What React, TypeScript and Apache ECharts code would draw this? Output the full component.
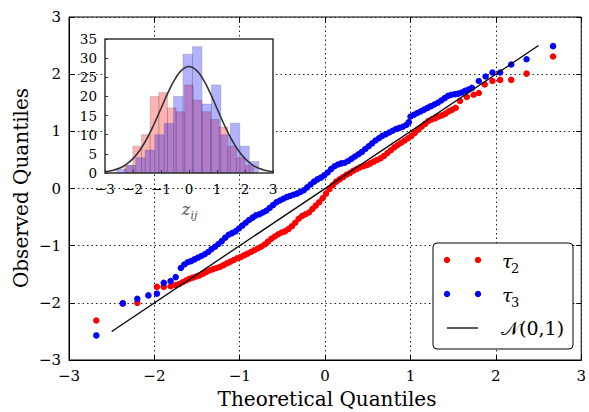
import React, { useEffect, useRef } from "react";
import * as echarts from "echarts";

// Q-Q points: [theoretical quantile, observed quantile]
const tau2Points: [number, number][] = [
  [-2.68, -2.31], [-2.37, -2.01], [-2.20, -2.00], [-1.97, -1.72], [-1.89, -1.72], [-1.81, -1.71], [-1.75, -1.69],
  [-1.71, -1.67], [-1.67, -1.64], [-1.63, -1.61], [-1.59, -1.58], [-1.55, -1.56], [-1.51, -1.54], [-1.47, -1.52],
  [-1.43, -1.49], [-1.39, -1.46], [-1.35, -1.43], [-1.31, -1.41], [-1.27, -1.39], [-1.23, -1.37], [-1.19, -1.34],
  [-1.15, -1.31], [-1.11, -1.28], [-1.07, -1.25], [-1.03, -1.22], [-0.99, -1.20], [-0.95, -1.17], [-0.91, -1.14],
  [-0.87, -1.11], [-0.83, -1.08], [-0.79, -1.05], [-0.75, -1.02], [-0.71, -0.98], [-0.67, -0.93], [-0.63, -0.88],
  [-0.59, -0.84], [-0.55, -0.80], [-0.51, -0.77], [-0.47, -0.75], [-0.43, -0.71], [-0.39, -0.66], [-0.35, -0.60],
  [-0.31, -0.53], [-0.27, -0.48], [-0.23, -0.45], [-0.19, -0.42], [-0.15, -0.36], [-0.11, -0.30], [-0.07, -0.24],
  [-0.03, -0.17], [0.01, -0.09], [0.05, -0.01], [0.09, 0.06], [0.13, 0.12], [0.17, 0.16], [0.21, 0.20],
  [0.25, 0.24], [0.29, 0.27], [0.33, 0.31], [0.37, 0.34], [0.41, 0.37], [0.45, 0.39], [0.49, 0.41],
  [0.53, 0.44], [0.57, 0.47], [0.61, 0.50], [0.65, 0.53], [0.69, 0.57], [0.73, 0.62], [0.77, 0.67],
  [0.81, 0.72], [0.85, 0.76], [0.89, 0.80], [0.93, 0.84], [0.97, 0.88], [1.01, 0.92], [1.05, 0.97],
  [1.09, 1.03], [1.13, 1.08], [1.17, 1.13], [1.21, 1.18], [1.25, 1.21], [1.29, 1.23], [1.33, 1.26],
  [1.37, 1.28], [1.41, 1.31], [1.45, 1.35], [1.49, 1.38], [1.53, 1.41], [1.58, 1.53], [1.66, 1.60],
  [1.74, 1.64], [1.80, 1.67], [1.87, 1.82], [1.96, 1.88], [2.05, 1.90], [2.18, 1.90], [2.36, 2.01], [2.67, 2.31],
];

const tau3Points: [number, number][] = [
  [-2.68, -2.57], [-2.37, -2.01], [-2.20, -1.93], [-2.07, -1.87], [-1.97, -1.84], [-1.89, -1.65], [-1.81, -1.62],
  [-1.75, -1.55], [-1.69, -1.39], [-1.65, -1.33], [-1.61, -1.29], [-1.57, -1.27], [-1.53, -1.24], [-1.49, -1.21],
  [-1.45, -1.18], [-1.41, -1.15], [-1.37, -1.11], [-1.33, -1.06], [-1.29, -1.02], [-1.25, -0.97], [-1.21, -0.92],
  [-1.17, -0.86], [-1.13, -0.81], [-1.09, -0.78], [-1.05, -0.75], [-1.01, -0.70], [-0.97, -0.65], [-0.93, -0.60],
  [-0.89, -0.55], [-0.85, -0.51], [-0.81, -0.47], [-0.77, -0.45], [-0.73, -0.42], [-0.69, -0.39], [-0.65, -0.34],
  [-0.61, -0.29], [-0.57, -0.24], [-0.53, -0.21], [-0.49, -0.18], [-0.45, -0.15], [-0.41, -0.13], [-0.37, -0.11],
  [-0.33, -0.09], [-0.29, -0.06], [-0.25, -0.03], [-0.21, 0.02], [-0.17, 0.07], [-0.13, 0.12], [-0.09, 0.16],
  [-0.05, 0.19], [-0.01, 0.23], [0.03, 0.28], [0.07, 0.34], [0.11, 0.39], [0.15, 0.42], [0.19, 0.44],
  [0.23, 0.45], [0.27, 0.48], [0.31, 0.52], [0.35, 0.56], [0.39, 0.60], [0.43, 0.64], [0.47, 0.69],
  [0.51, 0.74], [0.55, 0.79], [0.59, 0.84], [0.63, 0.88], [0.67, 0.92], [0.71, 0.95], [0.75, 0.98],
  [0.79, 1.01], [0.83, 1.04], [0.87, 1.06], [0.91, 1.08], [0.95, 1.11], [0.98, 1.16], [1.00, 1.26],
  [1.04, 1.29], [1.08, 1.32], [1.12, 1.35], [1.16, 1.38], [1.20, 1.41], [1.24, 1.44], [1.28, 1.47],
  [1.32, 1.50], [1.36, 1.54], [1.40, 1.58], [1.44, 1.62], [1.48, 1.64], [1.52, 1.65], [1.56, 1.66],
  [1.60, 1.68], [1.64, 1.71], [1.68, 1.73], [1.72, 1.76], [1.80, 1.88], [1.88, 1.96], [1.96, 2.03],
  [2.05, 2.03], [2.18, 2.17], [2.36, 2.26], [2.67, 2.49],
];

const normalLine: [number, number][] = [[-2.5, -2.5], [2.5, 2.5]];

// Inset histograms (each with its own bins)
const tau2BinStart = -2.31;
const tau2BinWidth = 0.308;
const tau2Counts = [2, 7, 10, 20, 21, 17, 16, 23, 19, 16, 14, 12, 7, 4, 2];
const tau3BinStart = -2.58;
const tau3BinWidth = 0.338;
const tau3Counts = [1, 2, 4, 6, 10, 13, 20, 31, 33, 18, 23, 10, 13, 7, 3];

// Scaled N(0,1) density in the inset
const pdfX = [-3, -2.75, -2.5, -2.25, -2, -1.75, -1.5, -1.25, -1, -0.75, -0.5, -0.25, 0,
  0.25, 0.5, 0.75, 1, 1.25, 1.5, 1.75, 2, 2.25, 2.5, 2.75, 3];
const pdfY = [0.31, 0.63, 1.22, 2.21, 3.76, 6.01, 9.03, 12.73, 16.86, 20.98, 24.53, 26.94, 27.8,
  26.94, 24.53, 20.98, 16.86, 12.73, 9.03, 6.01, 3.76, 2.21, 1.22, 0.63, 0.31];

const FONT = "DejaVu Serif";
const minusFmt = (v: number) => (v < 0 ? "\u2212" + Math.abs(v) : String(v));

function histData(start: number, width: number, counts: number[]) {
  return counts.map((c, i) => [start + i * width, start + (i + 1) * width, c]);
}

function histRender(fill: string) {
  return (params: any, api: any) => {
    const x0 = api.value(0);
    const x1 = api.value(1);
    const h = api.value(2);
    if (!h) return null;
    const p0 = api.coord([x0, 0]);
    const p1 = api.coord([x1, h]);
    return {
      type: "rect",
      shape: { x: p0[0], y: p1[1], width: p1[0] - p0[0], height: p0[1] - p1[1] },
      style: { fill, stroke: "rgba(90,90,90,0.25)", lineWidth: 1 },
    };
  };
}

export default function App() {
  const ref = useRef<HTMLDivElement>(null);
  useEffect(() => {
    if (!ref.current) return;
    const chart = echarts.init(ref.current, null, { renderer: "svg" });
    const dotted = { type: [1.5, 3] as any, color: "#222", width: 1 };
    const mainTick = { show: true, inside: true, length: 5, lineStyle: { color: "#000" } };
    const option: any = {
      animation: false,
      backgroundColor: "#fff",
      grid: [
        { left: 69, top: 17, width: 515, height: 343, show: true, borderColor: "#000", borderWidth: 1, backgroundColor: "transparent" },
        { left: 105, top: 39, width: 168, height: 134 },
      ],
      xAxis: [
        {
          gridIndex: 0, type: "value", min: -3, max: 3, interval: 1,
          axisLine: { show: true, onZero: false, lineStyle: { color: "#000", width: 1 } },
          axisTick: mainTick,
          axisLabel: { fontFamily: FONT, fontSize: 15, color: "#000", margin: 8, formatter: minusFmt },
          splitLine: { show: true, lineStyle: dotted },
        },
        {
          gridIndex: 0, type: "value", min: -3, max: 3, interval: 1, position: "top",
          axisLine: { show: false, onZero: false }, axisTick: mainTick,
          axisLabel: { show: false }, splitLine: { show: false },
        },
        {
          gridIndex: 1, type: "value", min: -3, max: 3, interval: 1, z: 3,
          axisLine: { show: false, onZero: false },
          axisTick: { show: true, inside: true, length: 3, lineStyle: { color: "#333" } },
          axisLabel: { fontFamily: FONT, fontSize: 13.5, color: "#000", margin: 9, formatter: minusFmt },
          splitLine: { show: false },
        },
      ],
      yAxis: [
        {
          gridIndex: 0, type: "value", min: -3, max: 3, interval: 1,
          axisLine: { show: true, onZero: false, lineStyle: { color: "#000", width: 1 } },
          axisTick: mainTick,
          axisLabel: { fontFamily: FONT, fontSize: 15, color: "#000", margin: 8, formatter: minusFmt },
          splitLine: { show: true, lineStyle: dotted },
        },
        {
          gridIndex: 0, type: "value", min: -3, max: 3, interval: 1, position: "right",
          axisLine: { show: false, onZero: false }, axisTick: mainTick,
          axisLabel: { show: false }, splitLine: { show: false },
        },
        {
          gridIndex: 1, type: "value", min: 0, max: 35, interval: 5, z: 3,
          axisLine: { show: false, onZero: false },
          axisTick: { show: true, inside: true, length: 3, lineStyle: { color: "#333" } },
          axisLabel: { fontFamily: FONT, fontSize: 13.5, color: "#000", margin: 8 },
          splitLine: { show: false },
        },
      ],
      series: [
        {
          type: "custom", xAxisIndex: 2, yAxisIndex: 2, z: 4,
          renderItem: histRender("rgba(255,0,0,0.3)"),
          encode: { x: [0, 1], y: 2 },
          data: histData(tau2BinStart, tau2BinWidth, tau2Counts),
        },
        {
          type: "custom", xAxisIndex: 2, yAxisIndex: 2, z: 4,
          renderItem: histRender("rgba(0,0,255,0.3)"),
          encode: { x: [0, 1], y: 2 },
          data: histData(tau3BinStart, tau3BinWidth, tau3Counts),
        },
        {
          type: "line", xAxisIndex: 2, yAxisIndex: 2, z: 5, smooth: true, symbol: "none",
          lineStyle: { color: "#333", width: 1.6 },
          data: pdfX.map((x, i) => [x, pdfY[i]]),
        },
        {
          type: "scatter", xAxisIndex: 0, yAxisIndex: 0, z: 2, symbol: "circle", symbolSize: 6.5,
          itemStyle: { color: "#ff0000", opacity: 1 }, data: tau2Points,
        },
        {
          type: "scatter", xAxisIndex: 0, yAxisIndex: 0, z: 2, symbol: "circle", symbolSize: 6.5,
          itemStyle: { color: "#0000ff", opacity: 1 }, data: tau3Points,
        },
        {
          type: "line", xAxisIndex: 0, yAxisIndex: 0, z: 3, symbol: "none",
          lineStyle: { color: "#000", width: 1.3 }, data: normalLine,
        },
      ],
      graphic: [
        { type: "rect", z: 1, silent: true, shape: { x: 105, y: 39, width: 168, height: 134 }, style: { fill: "#fff" } },
        { type: "rect", z: 10, silent: true, shape: { x: 105, y: 39, width: 168, height: 134 }, style: { fill: "none", stroke: "#333", lineWidth: 1.5 } },
        { type: "text", z: 10, x: 186, y: 209, style: { text: "z", font: "italic 16px 'DejaVu Serif'", fill: "#555", verticalAlign: "middle", align: "center" } },
        { type: "text", z: 10, x: 194, y: 215, style: { text: "ij", font: "italic 11px 'DejaVu Serif'", fill: "#555", verticalAlign: "middle", align: "center" } },
        { type: "text", z: 10, x: 327, y: 399, style: { text: "Theoretical Quantiles", font: "20px 'DejaVu Serif'", fill: "#000", align: "center", verticalAlign: "middle" } },
        { type: "text", z: 10, x: 21, y: 188, rotation: Math.PI / 2, style: { text: "Observed Quantiles", font: "20px 'DejaVu Serif'", fill: "#000", align: "center", verticalAlign: "middle" } },
        // legend
        { type: "rect", z: 10, shape: { x: 433, y: 243, width: 140, height: 106, r: 4 }, style: { fill: "#fff", stroke: "#000", lineWidth: 1 } },
        { type: "circle", z: 11, shape: { cx: 447, cy: 260, r: 3.2 }, style: { fill: "#ff0000" } },
        { type: "circle", z: 11, shape: { cx: 478, cy: 260, r: 3.2 }, style: { fill: "#ff0000" } },
        { type: "circle", z: 11, shape: { cx: 447, cy: 294, r: 3.2 }, style: { fill: "#0000ff" } },
        { type: "circle", z: 11, shape: { cx: 478, cy: 294, r: 3.2 }, style: { fill: "#0000ff" } },
        { type: "line", z: 11, shape: { x1: 447, y1: 328, x2: 478, y2: 328 }, style: { stroke: "#000", lineWidth: 1.3 } },
        { type: "text", z: 11, x: 502, y: 261, style: { text: "τ", font: "italic 19px 'DejaVu Serif'", fill: "#000", verticalAlign: "middle" } },
        { type: "text", z: 11, x: 511, y: 268, style: { text: "2", font: "13px 'DejaVu Serif'", fill: "#000", verticalAlign: "middle" } },
        { type: "text", z: 11, x: 502, y: 295, style: { text: "τ", font: "italic 19px 'DejaVu Serif'", fill: "#000", verticalAlign: "middle" } },
        { type: "text", z: 11, x: 511, y: 302, style: { text: "3", font: "13px 'DejaVu Serif'", fill: "#000", verticalAlign: "middle" } },
        { type: "text", z: 11, x: 501, y: 328, style: { text: "\u{1D4A9}(0,1)", font: "19px 'DejaVu Serif', 'DejaVu Sans'", fill: "#000", verticalAlign: "middle" } },
      ],
    };
    chart.setOption(option);
    return () => chart.dispose();
  }, []);
  return <div ref={ref} style={{ position: "fixed", left: 0, top: 0, width: 589, height: 412 }} />;
}
